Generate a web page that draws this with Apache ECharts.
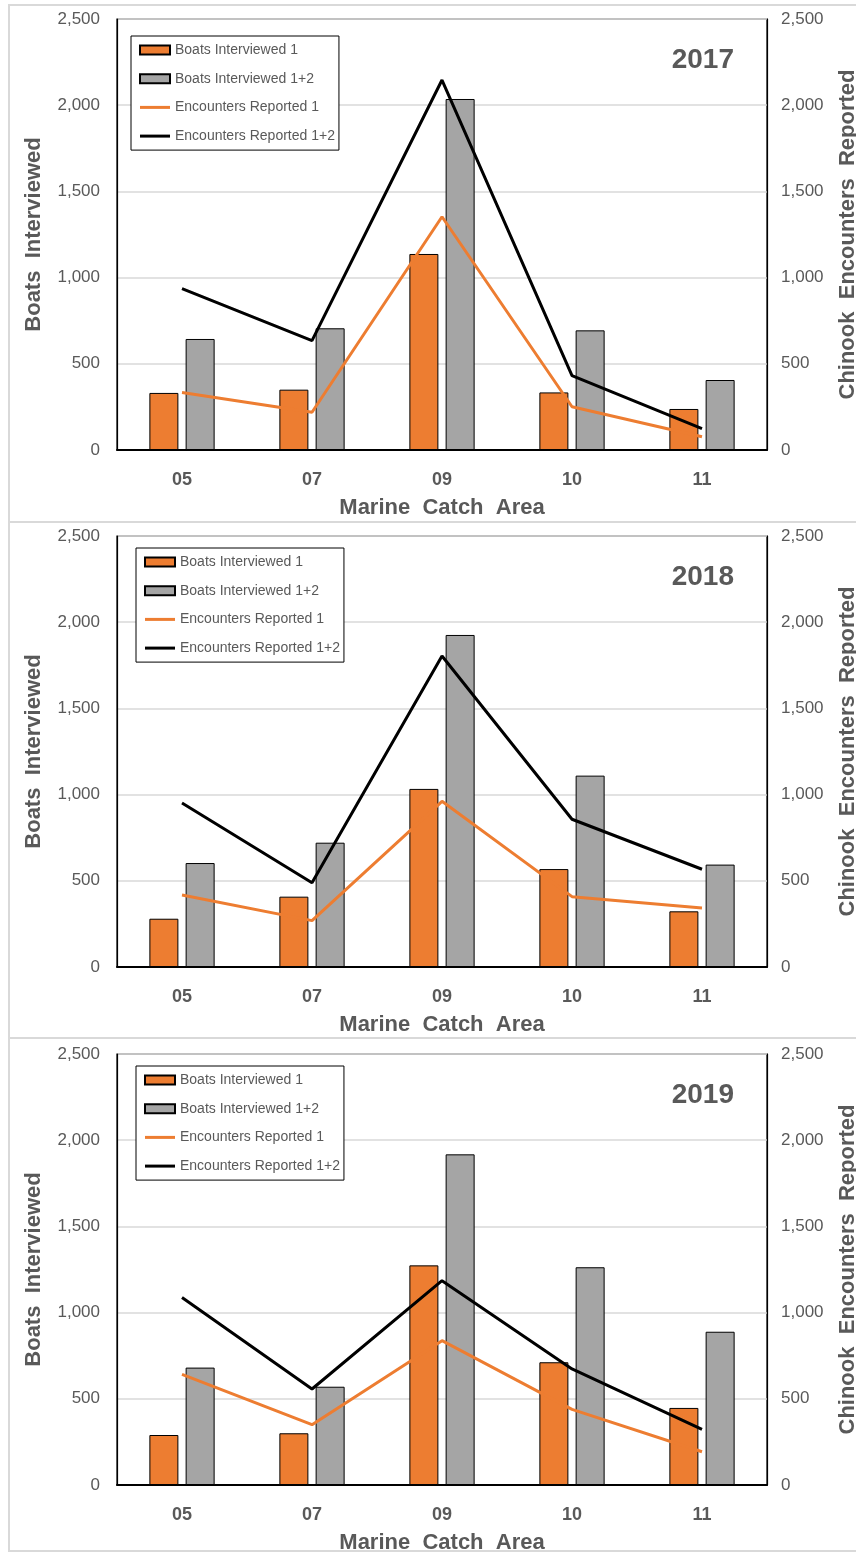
<!DOCTYPE html>
<html>
<head>
<meta charset="utf-8">
<title>Boats Interviewed and Chinook Encounters Reported by Marine Catch Area</title>
<script src="https://cdn.jsdelivr.net/npm/echarts@6/dist/echarts.min.js"></script>
<style>
  html, body { margin: 0; padding: 0; background: #ffffff; }
  #chart { width: 856px; height: 1553px; }
</style>
</head>
<body>
<div id="chart"></div>
<script>
// Marine catch areas on the category axis
const areas = ['05', '07', '09', '10', '11'];
const years = ['2017', '2018', '2019'];
const yTicks = [0, 500, 1000, 1500, 2000, 2500];

// Boats interviewed (bars, left axis)
const boats1_2017  = [331, 350, 1137, 334, 238];
const boats12_2017 = [644, 706, 2036, 694, 406];
const boats1_2018  = [280, 408, 1033, 568, 323];
const boats12_2018 = [603, 721, 1926, 1110, 594];
const boats1_2019  = [290, 300, 1274, 712, 447];
const boats12_2019 = [681, 570, 1918, 1263, 889];

// Chinook encounters reported (lines, right axis)
const enc1_2017  = [333, 219, 1353, 251, 77];
const enc12_2017 = [936, 634, 2146, 431, 124];
const enc1_2018  = [418, 269, 961, 408, 342];
const enc12_2018 = [951, 489, 1804, 857, 567];
const enc1_2019  = [642, 350, 837, 439, 193];
const enc12_2019 = [1087, 557, 1185, 673, 323];

const seriesNames = ['Boats Interviewed 1', 'Boats Interviewed 1+2', 'Encounters Reported 1', 'Encounters Reported 1+2'];
const panelData = [
  [boats1_2017, boats12_2017, enc1_2017, enc12_2017],
  [boats1_2018, boats12_2018, enc1_2018, enc12_2018],
  [boats1_2019, boats12_2019, enc1_2019, enc12_2019]
];

const ORANGE = '#ED7D31';
const GREY = '#A5A5A5';
const TEXT = '#595959';
const FONT = '"Liberation Sans", Arial, sans-serif';

// layout of the three stacked panels
const plotTops = [19, 536, 1054];
const plotHeight = 431;
const plotLeft = 117;
const plotRight = 767;
const legendPos = [[131, 36], [136, 548], [136, 1066]];
const frameTops = [5, 522, 1038];
const frameBottoms = [522, 1038, 1551];

// legend glyphs: outlined box for bars, short thick stroke for lines
// (the leading moves pin the icon's bounding box to the full item size)
const BAR_ICON = 'rect';
const LINE_ICON = 'path://M0,0 M30,9 M0,3 L30,3 L30,6 L0,6 Z';

const fmt = v => v.toLocaleString('en-US');

const grid = [], xAxis = [], yAxis = [], series = [], legend = [], graphic = [];

panelData.forEach((d, i) => {
  grid.push({
    left: plotLeft, width: plotRight - plotLeft, top: plotTops[i], height: plotHeight,
    outerBoundsMode: 'none', containLabel: false,
    show: true, borderColor: '#000', borderWidth: 1.2, backgroundColor: '#fff'
  });
  xAxis.push({
    type: 'category', gridIndex: i, data: areas,
    axisLine: { show: true, lineStyle: { color: '#000', width: 2 } },
    axisTick: { show: false },
    axisLabel: { color: TEXT, fontFamily: FONT, fontWeight: 'bold', fontSize: 18, margin: 21 },
    name: 'Marine  Catch  Area', nameLocation: 'middle', nameGap: 47,
    nameTextStyle: { color: TEXT, fontFamily: FONT, fontWeight: 'bold', fontSize: 22 }
  });
  yAxis.push({
    type: 'value', gridIndex: i, min: yTicks[0], max: yTicks[yTicks.length - 1], interval: yTicks[1] - yTicks[0],
    position: 'left',
    axisLine: { show: true, lineStyle: { color: '#000', width: 1.2 } },
    axisTick: { show: false },
    axisLabel: { color: TEXT, fontFamily: FONT, fontSize: 17, margin: 17, formatter: fmt },
    splitLine: { show: true, lineStyle: { color: '#D9D9D9', width: 1.5 } },
    name: 'Boats  Interviewed', nameLocation: 'middle', nameRotate: 90, nameGap: 72,
    nameTextStyle: { color: TEXT, fontFamily: FONT, fontWeight: 'bold', fontSize: 22 }
  });
  yAxis.push({
    type: 'value', gridIndex: i, min: yTicks[0], max: yTicks[yTicks.length - 1], interval: yTicks[1] - yTicks[0],
    position: 'right',
    axisLine: { show: true, lineStyle: { color: '#000', width: 1.2 } },
    axisTick: { show: false },
    axisLabel: { color: TEXT, fontFamily: FONT, fontSize: 17, margin: 14, formatter: fmt },
    splitLine: { show: false },
    name: 'Chinook  Encounters  Reported', nameLocation: 'middle', nameRotate: 90, nameGap: 70,
    nameTextStyle: { color: TEXT, fontFamily: FONT, fontWeight: 'bold', fontSize: 22 }
  });

  series.push({
    name: seriesNames[0], type: 'bar', xAxisIndex: i, yAxisIndex: 2 * i, data: d[0],
    barWidth: 29, barGap: '25%',
    itemStyle: { color: ORANGE, borderColor: '#000', borderWidth: 1 }
  });
  series.push({
    name: seriesNames[1], type: 'bar', xAxisIndex: i, yAxisIndex: 2 * i, data: d[1],
    barWidth: 29, barGap: '25%',
    itemStyle: { color: GREY, borderColor: '#000', borderWidth: 1 }
  });
  series.push({
    name: seriesNames[2], type: 'line', xAxisIndex: i, yAxisIndex: 2 * i + 1, data: d[2],
    symbol: 'none', lineStyle: { color: ORANGE, width: 3 }, itemStyle: { color: ORANGE }, z: 3
  });
  series.push({
    name: seriesNames[3], type: 'line', xAxisIndex: i, yAxisIndex: 2 * i + 1, data: d[3],
    symbol: 'none', lineStyle: { color: '#000', width: 3 }, itemStyle: { color: '#000' }, z: 4
  });

  legend.push({
    data: [
      { name: seriesNames[0], icon: BAR_ICON },
      { name: seriesNames[1], icon: BAR_ICON },
      { name: seriesNames[2], icon: LINE_ICON, itemStyle: { color: ORANGE, borderWidth: 0 } },
      { name: seriesNames[3], icon: LINE_ICON, itemStyle: { color: '#000', borderWidth: 0 } }
    ],
    orient: 'vertical', left: legendPos[i][0], top: legendPos[i][1],
    itemWidth: 30, itemHeight: 9, itemGap: 14.7,
    padding: [7, 4, 7, 8],
    backgroundColor: '#fff', borderColor: '#000', borderWidth: 1,
    textStyle: { color: TEXT, fontFamily: FONT, fontSize: 14 },
    selectedMode: false
  });

  // year tag in the upper right of each plot
  graphic.push({
    type: 'text', x: 734, y: plotTops[i] + 41,
    style: { text: years[i], fill: TEXT, font: 'bold 28px ' + FONT, textAlign: 'right', textVerticalAlign: 'middle' },
    z: 10
  });
  // light outline around each panel
  graphic.push({
    type: 'rect', shape: { x: 9, y: frameTops[i], width: 860, height: frameBottoms[i] - frameTops[i] },
    style: { fill: null, stroke: '#D9D9D9', lineWidth: 2 }, z: -1, silent: true
  });
});

const chart = echarts.init(document.getElementById('chart'), null, { renderer: 'canvas' });
chart.setOption({
  animation: false,
  backgroundColor: '#fff',
  grid, xAxis, yAxis, series, legend, graphic
});
</script>
</body>
</html>
